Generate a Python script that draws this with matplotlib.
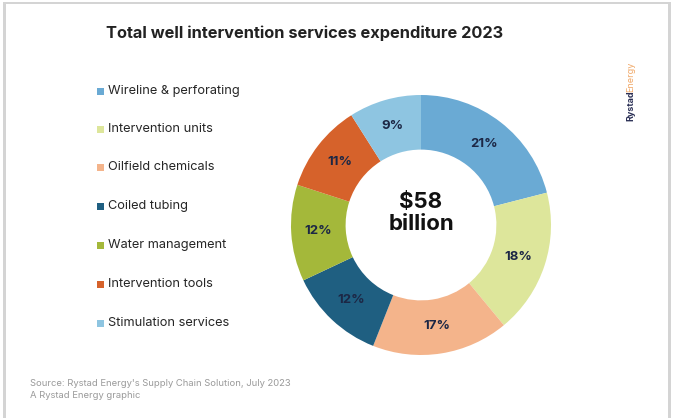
import matplotlib
matplotlib.use("Agg")
import matplotlib.pyplot as plt
from matplotlib.patches import Rectangle
import numpy as np

plt.rcParams['font.family'] = ['Inter', 'DejaVu Sans']

# Spending split by service line, percent of total
categories = ["Wireline & perforating", "Intervention units", "Oilfield chemicals",
              "Coiled tubing", "Water management", "Intervention tools",
              "Stimulation services"]
shares = [21, 18, 17, 12, 12, 11, 9]
colors = ["#6aaad4", "#dde69b", "#f4b48b", "#1f5f81", "#a4b83a", "#d6622b", "#8ec5e1"]
total_label = "$58\nbillion"

W, H = 673, 418
fig = plt.figure(figsize=(W / 100, H / 100), dpi=100)
fig.patch.set_facecolor("white")


def fx(px):
    return px / W


def fy(py):
    return 1 - py / H


# card outline with light shadow on the edges
bg = fig.add_axes([0, 0, 1, 1])
bg.set_xlim(0, W)
bg.set_ylim(H, 0)
bg.axis("off")
bg.add_patch(Rectangle((3, 2), 668, 440, facecolor="#d4d4d4", edgecolor="none"))
bg.add_patch(Rectangle((6, 4), 662, 440, facecolor="white", edgecolor="none"))

# donut
cx, cy, r = 421, 225, 130
ax = fig.add_axes([fx(cx - r), fy(cy + r), 2 * r / W, 2 * r / H])
wedges, _ = ax.pie(shares, colors=colors, startangle=90, counterclock=False,
                   radius=1, wedgeprops=dict(width=0.42, edgecolor="none"))
ax.set_xlim(-1, 1)
ax.set_ylim(-1, 1)

for w, s in zip(wedges, shares):
    ang = np.deg2rad((w.theta1 + w.theta2) / 2)
    rr = 0.79
    ax.text(rr * np.cos(ang), rr * np.sin(ang), f"{s}%", ha="center", va="center",
            fontsize=9.5, fontweight="bold", color="#1c2745")

ax.text(0, 0.09, total_label, ha="center", va="center", fontsize=16,
        fontweight="bold", color="#111111", linespacing=1.15)

# title
fig.text(fx(305), fy(33), "Total well intervention services expenditure 2023",
         ha="center", va="center", fontsize=11.8, fontweight="bold", color="#222222")

# legend
ys = [91, 129, 167, 206, 245, 284, 323]
for name, c, y in zip(categories, colors, ys):
    bg.add_patch(Rectangle((97, y - 3.5), 7, 7, facecolor=c, edgecolor="none"))
    bg.text(108, y, name, ha="left", va="center", fontsize=9.2, color="#262626")

# logo
fig.text(fx(631), fy(121), "Rystad", rotation=90, ha="center", va="bottom",
         fontsize=6.5, fontweight="bold", color="#2a2f55")
fig.text(fx(631), fy(92), "Energy", rotation=90, ha="center", va="bottom",
         fontsize=6.5, color="#f0a868")

# footnote
fig.text(fx(30), fy(383), "Source: Rystad Energy's Supply Chain Solution, July 2023",
         ha="left", va="center", fontsize=6.8, color="#9a9a9a")
fig.text(fx(30), fy(396), "A Rystad Energy graphic",
         ha="left", va="center", fontsize=6.8, color="#9a9a9a")

fig.savefig("out.png", dpi=100)
